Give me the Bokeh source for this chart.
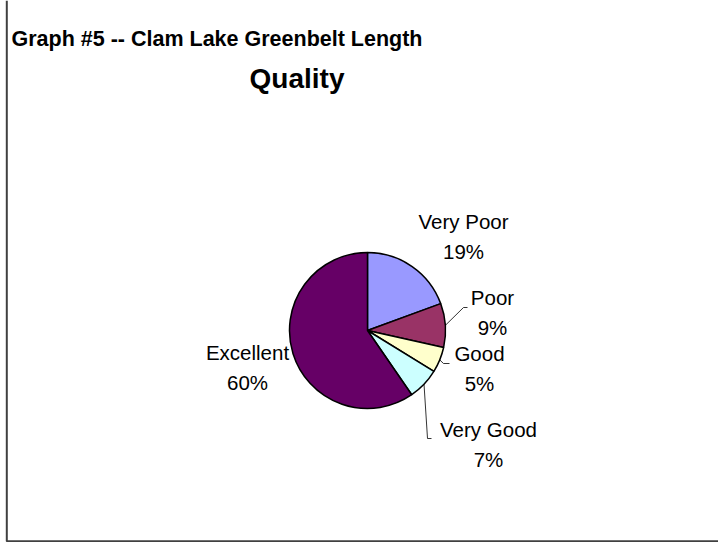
import math
from bokeh.plotting import figure
from bokeh.models import Range1d, ColumnDataSource
from bokeh.core.properties import value
from bokeh.embed import file_html
from bokeh.resources import INLINE

# ---- data ----
categories = ["Very Poor", "Poor", "Good", "Very Good", "Excellent"]
shares = [19.4, 9.1, 5.3, 6.6, 59.6]
colors = ["#9999FF", "#993366", "#FFFFCC", "#CCFFFF", "#660066"]
title_line1 = "Graph #5 -- Clam Lake Greenbelt Length"
title_line2 = "Quality"

# ---- layout (picture pixel coordinates, 1:1 with the canvas) ----
W, H = 718, 542
cx_pg, cy_pg, R = 367, 330, 78
label_pos = [(463, 221), (492, 297), (479, 353), (488, 429), (247, 352)]
line_gap = 30
leader_elbow = [None, [(463, 307), (467, 307)], [(443, 363), (449, 363)],
                [(427, 438), (431, 438)], None]


def dy(pg_y):
    return H - pg_y  # picture y -> data y


p = figure(width=W, height=H, output_backend="svg", toolbar_location=None,
           x_range=Range1d(0, W), y_range=Range1d(0, H),
           min_border=0, min_border_left=0, min_border_right=0,
           min_border_top=0, min_border_bottom=0)
p.axis.visible = False
p.grid.visible = False
p.outline_line_color = None
p.background_fill_color = "white"
p.border_fill_color = "white"

total = float(sum(shares))
starts, ends, mids = [], [], []
c = 0.0
for s in shares:
    c0 = c / total
    c += s
    c1 = c / total
    starts.append(math.pi / 2 - 2 * math.pi * c1)
    ends.append(math.pi / 2 - 2 * math.pi * c0)
    mids.append((c0 + c1) / 2)

src = ColumnDataSource(dict(start=starts, end=ends, color=colors, cat=categories))
cx, cy = cx_pg, dy(cy_pg)
p.wedge(x=cx, y=cy, radius=R, start_angle="start", end_angle="end",
        direction="anticlock", fill_color="color", line_color="black",
        line_width=1.5, source=src)

# leader lines
for i, elb in enumerate(leader_elbow):
    if elb is None:
        continue
    a = 2 * math.pi * mids[i]
    x0 = cx + R * math.sin(a)
    y0 = cy + R * math.cos(a)
    xs = [x0] + [e[0] for e in elb]
    ys = [y0] + [dy(e[1]) for e in elb]
    p.line(xs, ys, line_color="black", line_width=0.8)

# labels
names_x = [lp[0] for lp in label_pos]
names_y = [dy(lp[1]) for lp in label_pos]
pct_y = [dy(lp[1] + line_gap) for lp in label_pos]
pct_txt = ["%d%%" % round(100 * s / total) for s in shares]
p.text(x=names_x, y=names_y, text=categories, text_align="center",
       text_baseline="alphabetic", text_font=value("Liberation Sans"),
       text_font_size="20.5px", text_color="black")
p.text(x=names_x, y=pct_y, text=pct_txt, text_align="center",
       text_baseline="alphabetic", text_font=value("Liberation Sans"),
       text_font_size="20.5px", text_color="black")

# title
p.text(x=[11], y=[dy(38.5)], text=[title_line1], text_align="left",
       text_baseline="alphabetic", text_font=value("Liberation Sans"),
       text_font_style="bold", text_font_size="21.5px", text_color="black")
p.text(x=[296.5], y=[dy(78)], text=[title_line2], text_align="center",
       text_baseline="alphabetic", text_font=value("Liberation Sans"),
       text_font_style="bold", text_font_size="28px", text_color="black")

# chart frame (left and bottom edges visible)
p.line([6.3, 6.3, W], [H, 1.2, 1.2], line_color="#404040", line_width=2)

open("out.html", "w").write(file_html(p, INLINE))
